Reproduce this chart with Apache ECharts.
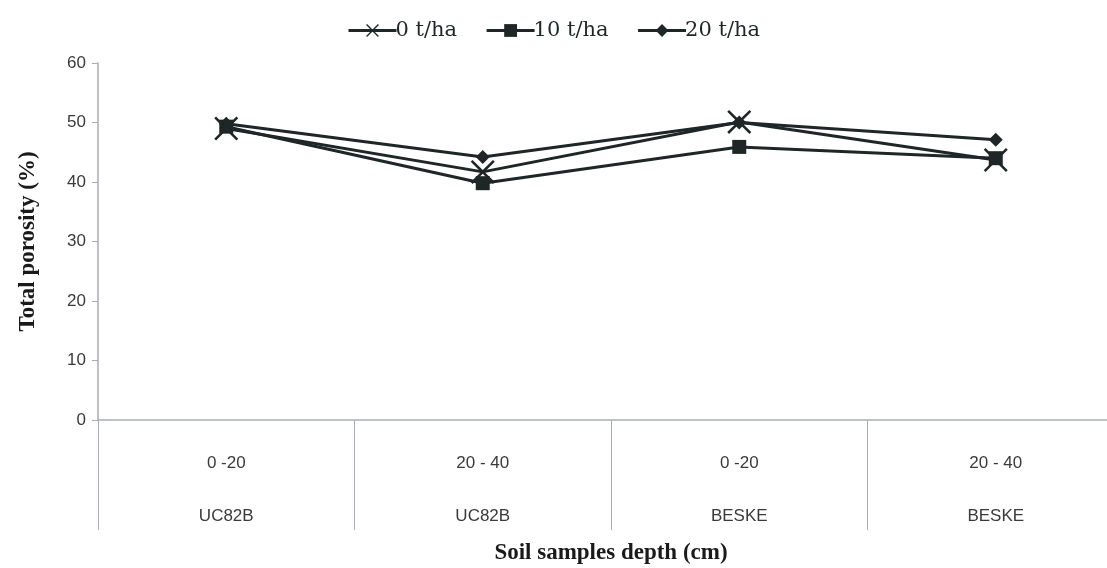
<!DOCTYPE html>
<html><head><meta charset="utf-8">
<script src="https://cdn.jsdelivr.net/npm/echarts@6/dist/echarts.min.js"></script>
<style>html,body{margin:0;padding:0;background:#fff;overflow:hidden}#c{width:1107px;height:568px}</style>
</head><body><div id="c"></div>
<script>
const depths = ['0 -20', '20 - 40', '0 -20', '20 - 40'];
const cultivars = ['UC82B', 'UC82B', 'BESKE', 'BESKE'];
const yTicks = [0, 10, 20, 30, 40, 50, 60];
const seriesNames = ['0 t/ha', '10 t/ha', '20 t/ha'];
const s0 = [49.0, 41.7, 50.1, 43.7];
const s10 = [49.3, 39.8, 45.9, 44.0];
const s20 = [49.8, 44.2, 50.0, 47.1];

const lineColor = '#1e2626';
const xPath = 'path://M0,1.5 L1.5,0 L10,8.5 L18.5,0 L20,1.5 L11.5,10 L20,18.5 L18.5,20 L10,11.5 L1.5,20 L0,18.5 L8.5,10 Z';
function mk(name, data, symbol, size) {
  return {
    name, type: 'line', data, symbol, symbolSize: size,
    lineStyle: {color: lineColor, width: 3},
    itemStyle: {color: lineColor},
    z: 3
  };
}
const chart = echarts.init(document.getElementById('c'));
chart.setOption({
  animation: false,
  legend: {
    top: 15, left: 'center',
    itemWidth: 48, itemHeight: 16, itemGap: 28,
    lineStyle: {width: 3},
    textStyle: {fontFamily: 'DejaVu Serif', fontSize: 21, color: '#1e2626', padding: [0,0,0,-6]},
    data: seriesNames
  },
  grid: {left: 98, width: 1026, top: 63, height: 357, outerBoundsMode: 'none', containLabel: false},
  xAxis: {
    type: 'category',
    data: depths.map((d, i) => d + '\n' + cultivars[i]),
    boundaryGap: true,
    axisLine: {lineStyle: {color: '#a9adb3', width: 1.5}},
    axisTick: {show: true, interval: 0, length: 110, lineStyle: {color: '#a9adb3', width: 1}},
    axisLabel: {interval: 0, margin: 17, color: '#3a3a3a', fontFamily: 'Liberation Sans Narrow, Liberation Sans', fontSize: 17, lineHeight: 53},
    name: 'Soil samples depth (cm)', nameLocation: 'middle', nameGap: 122, nameMoveOverlap: false,
    nameTextStyle: {fontFamily: 'Liberation Serif', fontWeight: 'bold', fontSize: 23, color: '#1a1a1a'}
  },
  yAxis: {
    type: 'value', min: 0, max: 60, interval: 10,
    splitLine: {show: false},
    axisLine: {show: true, lineStyle: {color: '#a9adb3', width: 1.5}},
    axisTick: {show: true, length: 6, lineStyle: {color: '#a9adb3'}},
    axisLabel: {color: '#3a3a3a', fontFamily: 'Liberation Sans', fontSize: 17, margin: 12,
      formatter: v => yTicks.includes(v) ? String(v) : ''},
    name: 'Total porosity (%)', nameLocation: 'middle', nameGap: 58, nameMoveOverlap: false,
    nameTextStyle: {fontFamily: 'Liberation Serif', fontWeight: 'bold', fontSize: 23, color: '#1a1a1a'}
  },
  series: [
    mk(seriesNames[0], s0, xPath, 24),
    mk(seriesNames[1], s10, 'rect', 14),
    mk(seriesNames[2], s20, 'diamond', 14)
  ]
});
</script></body></html>
